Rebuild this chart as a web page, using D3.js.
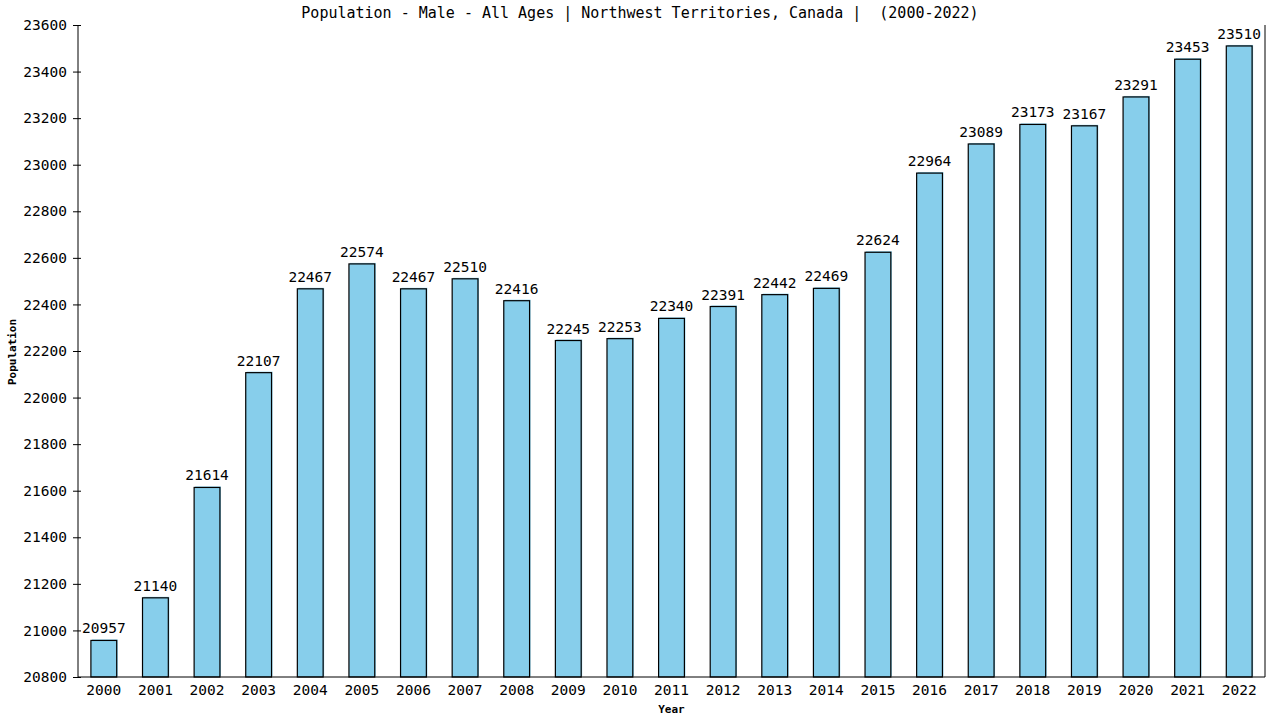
<!doctype html>
<html>
<head>
<script src="https://d3js.org/d3.v7.min.js"></script>
<style>
  body { margin: 0; background: #fff; }
  text { font-family: "DejaVu Sans Mono", monospace; }
</style>
</head>
<body>
<svg width="1280" height="720"></svg>
<script>
    // data
    var years = ["2000","2001","2002","2003","2004","2005","2006","2007","2008","2009","2010",
                 "2011","2012","2013","2014","2015","2016","2017","2018","2019","2020","2021","2022"];
    var population = [20957, 21140, 21614, 22107, 22467, 22574, 22467, 22510, 22416, 22245, 22253,
                      22340, 22391, 22442, 22469, 22624, 22964, 23089, 23173, 23167, 23291, 23453, 23510];
    var yTicks = [20800, 21000, 21200, 21400, 21600, 21800, 22000, 22200, 22400, 22600, 22800,
                  23000, 23200, 23400, 23600];

    var svg = d3.select("svg"),
        plotLeft = 78, plotRight = 1265, plotTop = 25, plotBottom = 677;

    var x = d3.scaleBand().domain(years).range([plotLeft, plotRight]).paddingInner(0.5).paddingOuter(0.25);
    var y = d3.scaleLinear().domain([20800, 23600]).range([plotBottom, plotTop]);

    // title
    svg.append("text")
        .attr("x", 640)
        .attr("y", 18)
        .attr("text-anchor", "middle")
        .style("font-size", "15px")
        .style("white-space", "pre")
        .text("Population - Male - All Ages | Northwest Territories, Canada |  (2000-2022)");

    // bars: blue shadow shifted up/right, then outlined bar
    var bars = svg.append("g");
    bars.selectAll(".shadow")
        .data(population)
        .enter().append("rect")
        .attr("x", function(d, i) { return x(years[i]) + 1; })
        .attr("y", function(d) { return y(d) - 1; })
        .attr("width", x.bandwidth())
        .attr("height", function(d) { return plotBottom - y(d); })
        .style("fill", "#87CEEB");
    bars.selectAll(".bar")
        .data(population)
        .enter().append("rect")
        .attr("x", function(d, i) { return x(years[i]); })
        .attr("y", function(d) { return y(d); })
        .attr("width", x.bandwidth())
        .attr("height", function(d) { return plotBottom - y(d); })
        .style("fill", "#87CEEB")
        .style("stroke", "#000")
        .style("stroke-width", 1.2);

    // value labels
    svg.append("g").selectAll("text")
        .data(population)
        .enter().append("text")
        .attr("x", function(d, i) { return x(years[i]) + x.bandwidth() / 2; })
        .attr("y", function(d) { return y(d) - 7; })
        .attr("text-anchor", "middle")
        .style("font-size", "14.5px")
        .text(function(d) { return d; });

    // y axis
    var yAxis = svg.append("g")
        .attr("transform", "translate(" + plotLeft + ",0)")
        .call(d3.axisLeft(y).tickValues(yTicks).tickSize(5).tickPadding(6).tickFormat(d3.format("d")));
    yAxis.select(".domain").attr("d", "M0," + plotBottom + "V" + plotTop);
    yAxis.selectAll(".tick line").attr("x1", 3);
    yAxis.selectAll(".tick text").style("font-size", "14.5px").style("font-family", "DejaVu Sans Mono");

    // x axis
    var xAxis = svg.append("g")
        .attr("transform", "translate(0," + plotBottom + ")")
        .call(d3.axisBottom(x).tickSize(0).tickPadding(8));
    xAxis.select(".domain").attr("d", "M" + plotLeft + ",0H" + plotRight);
    xAxis.selectAll(".tick text").style("font-size", "14.5px").style("font-family", "DejaVu Sans Mono");

    // right border
    svg.append("line")
        .attr("x1", plotRight).attr("x2", plotRight)
        .attr("y1", plotTop).attr("y2", plotBottom)
        .style("stroke", "#000");

    // axis titles
    svg.append("text")
        .attr("x", (plotLeft + plotRight) / 2)
        .attr("y", 713)
        .attr("text-anchor", "middle")
        .style("font-size", "11px")
        .style("font-weight", "bold")
        .text("Year");

    svg.append("text")
        .attr("text-anchor", "middle")
        .attr("transform", "translate(16," + 352 + ")rotate(-90)")
        .style("font-size", "11px")
        .style("font-weight", "bold")
        .text("Population");
</script>
</body>
</html>
